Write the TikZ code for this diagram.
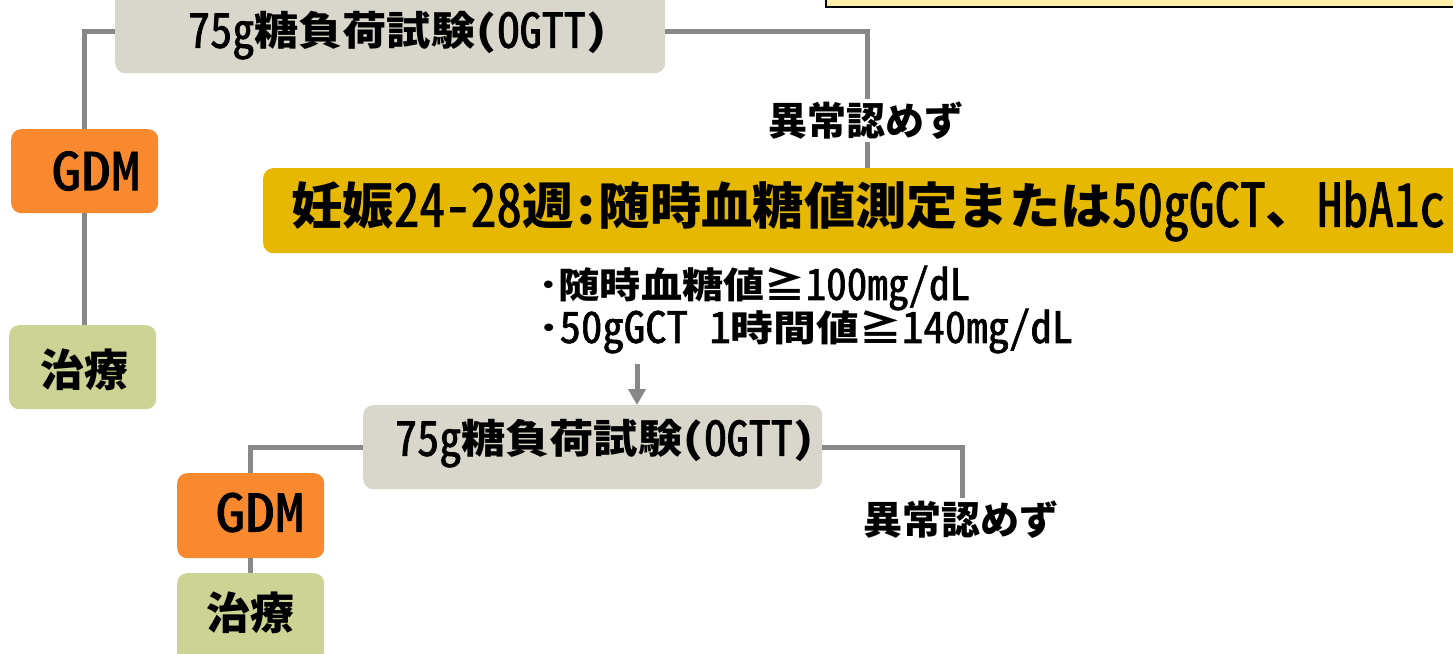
\documentclass[tikz,border=0pt]{standalone}
\usepackage{fontspec}
\setmainfont{Noto Sans CJK JP}[RawFeature={+hwid}]
\newfontfamily\latf{Noto Sans CJK JP}[RawFeature={+hwid}, FakeBold=1.5]
\usepackage{graphicx}
\usetikzlibrary{arrows.meta}
\definecolor{ogttgray}{RGB}{217,215,203}
\definecolor{gdmorange}{RGB}{248,137,46}
\definecolor{trgreen}{RGB}{205,211,148}
\definecolor{screenyellow}{RGB}{230,184,0}
\definecolor{noteyellow}{RGB}{253,238,170}
\definecolor{linegray}{RGB}{136,136,136}
\newcommand\fitw[2]{\resizebox{#1}{\height}{#2}}
\newcommand\fsz[1]{\bfseries\fontsize{#1}{#1}\selectfont}
\newcommand\lt[1]{\raisebox{-0.05em}{\scalebox{1}[1.2]{\latf\mdseries #1}}}
\begin{document}
\begin{tikzpicture}[x=1pt,y=-1pt,
  box/.style={rounded corners=10pt, inner sep=0pt, anchor=north west, draw=none},
  ogttbox/.style={box, fill=ogttgray},
  gdmbox/.style={box, fill=gdmorange},
  trbox/.style={box, fill=trgreen},
  conn/.style={draw=linegray, line width=5pt},
  txt/.style={inner sep=0pt, text=black},
  lbl/.style={inner sep=3pt, fill=white, text=black},
]
\useasboundingbox (0,0) rectangle (1453,653);
\clip (0,0) rectangle (1453,653);

% note box (top right, cut off)
\node[draw=black, line width=2pt, fill=noteyellow, anchor=north west,
      minimum width=700pt, minimum height=40pt, inner sep=0pt] (note) at (825,-34) {};

% boxes
\node[ogttbox, minimum width=550pt, minimum height=84pt] (ogtt1) at (115,-11) {};
\node[gdmbox, minimum width=147pt, minimum height=84pt] (gdm1) at (11,129) {};
\node[trbox, minimum width=147pt, minimum height=84pt] (tr1) at (9,325) {};
\node[box, fill=screenyellow, minimum width=1240pt, minimum height=85pt] (screen) at (263,168) {};
\node[ogttbox, minimum width=459pt, minimum height=84pt] (ogtt2) at (363,405) {};
\node[gdmbox, minimum width=147pt, minimum height=85pt] (gdm2) at (177,473) {};
\node[trbox, minimum width=147pt, minimum height=100pt] (tr2) at (177,573) {};

% connectors
\coordinate (c1) at (867,168);
\coordinate (c2) at (962,505);
\coordinate (a0) at (637,364);
\draw[conn] (ogtt1.west) -| (gdm1.north);
\draw[conn] (gdm1.south) -- (gdm1.south |- tr1.north);
\draw[conn] (ogtt1.east) -| (c1);
\draw[conn, -{Triangle[width=17pt,length=16pt]}] (a0) -- (a0 |- ogtt2.north);
\draw[conn] (ogtt2.west) -| (gdm2.north);
\draw[conn] (gdm2.south) -- (gdm2.south |- tr2.north);
\draw[conn] (ogtt2.east) -| (c2);

% texts
\node[txt] (ogtt1t) at (398,35.5) {\fsz{40pt}\fitw{420pt}{\lt{75g}糖負荷試験（\lt{OGTT}）}};
\node[txt] (gdm1t) at (96,171) {\fsz{52pt}\fitw{89pt}{\latf\mdseries GDM}};
\node[txt] (tr1t) at (84.5,370) {\fsz{44pt}治療};
\node[txt, anchor=west] (screent) at (291,211) {\fsz{50pt}\fitw{1154pt}{妊娠\lt{24-28}週：随時血糖値測定または\lt{50gGCT}、\lt{HbA1c}}};
\node[txt, anchor=west] (b1) at (538,288) {\fsz{36pt}\fitw{432pt}{･随時血糖値≧\lt{100mg/dL}}};
\node[txt, anchor=west] (b2) at (538,331) {\fsz{36pt}\fitw{535pt}{･\lt{50gGCT}　\lt{1}時間値≧\lt{140mg/dL}}};
\node[txt] (ogtt2t) at (605,443.5) {\fsz{40pt}\fitw{420pt}{\lt{75g}糖負荷試験（\lt{OGTT}）}};
\node[txt] (gdm2t) at (260,512.5) {\fsz{52pt}\fitw{89pt}{\latf\mdseries GDM}};
\node[txt] (tr2t) at (250,612.5) {\fsz{44pt}治療};
\node[lbl] (lbl1) at (866,120.5) {\fsz{39pt}異常認めず};
\node[lbl] (lbl2) at (960.5,519.5) {\fsz{39pt}異常認めず};
\end{tikzpicture}
\end{document}
